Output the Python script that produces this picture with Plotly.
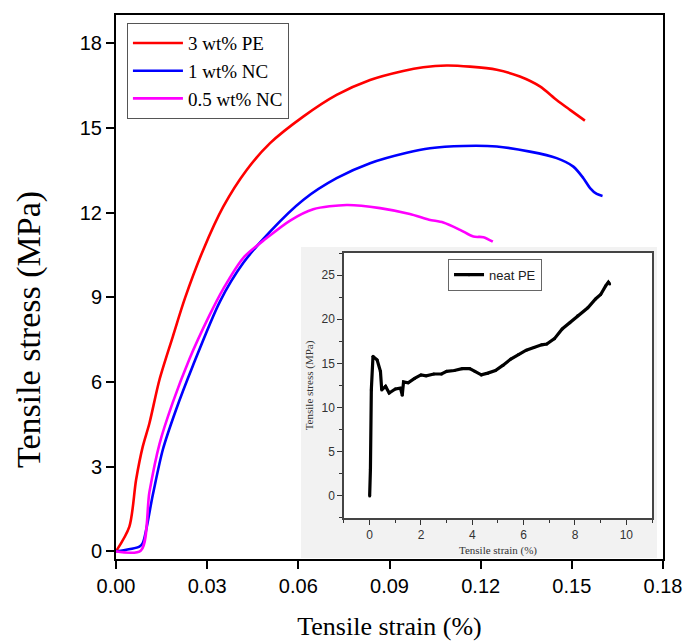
import plotly.graph_objects as go

# Main curves (strain, stress)
red_x = [0, 0.0044, 0.0066, 0.0088, 0.011, 0.0143, 0.0187, 0.0227, 0.0287, 0.0353, 0.043, 0.0507, 0.0616,
         0.0726, 0.0836, 0.0945, 0.1011, 0.1088, 0.1165, 0.1253, 0.1329, 0.1395, 0.145, 0.1494, 0.1543]
red_y = [0, 0.88, 2.53, 3.71, 4.54, 6.08, 7.61, 8.97, 10.68, 12.21, 13.51, 14.46, 15.40,
         16.17, 16.70, 17.02, 17.15, 17.21, 17.17, 17.06, 16.82, 16.47, 15.99, 15.64, 15.26]

blue_x = [0, 0.0077, 0.0088, 0.0121, 0.0154, 0.0197, 0.0252, 0.0342, 0.0419, 0.0507, 0.0616, 0.0726,
          0.0836, 0.0957, 0.1033, 0.1143, 0.1253, 0.1362, 0.145, 0.1505, 0.1538, 0.156, 0.1582, 0.1601]
blue_y = [0, 0.17, 0.29, 2.0, 3.6, 5.0, 6.55, 8.85, 10.22, 11.33, 12.45, 13.22,
          13.75, 14.12, 14.28, 14.36, 14.34, 14.16, 13.93, 13.63, 13.22, 12.87, 12.66, 12.59]

mag_x = [0, 0.0082, 0.011, 0.0143, 0.0186, 0.0241, 0.0307, 0.0353, 0.0419, 0.0496, 0.0573, 0.0649,
         0.0759, 0.0869, 0.0967, 0.103, 0.1077, 0.1132, 0.1176, 0.1209, 0.124]
mag_y = [0, 0.03, 2.1, 3.8, 5.25, 6.8, 8.35, 9.3, 10.4, 11.1, 11.72, 12.12,
         12.27, 12.16, 11.95, 11.75, 11.65, 11.39, 11.15, 11.13, 10.97]

# Inset: neat PE
pe_x = [0, 0.03, 0.065, 0.13, 0.29, 0.42, 0.47, 0.62, 0.76, 1.0, 1.2, 1.27, 1.32, 1.5, 1.75, 2.0, 2.2,
        2.5, 2.8, 3.0, 3.3, 3.6, 3.9, 4.1, 4.35, 4.6, 4.9, 5.2, 5.5, 5.8, 6.1, 6.4, 6.7, 6.9,
        7.2, 7.5, 7.8, 8.1, 8.5, 8.8, 9.0, 9.2, 9.3, 9.35]
pe_y = [0, 3.0, 12.0, 15.8, 15.4, 14.1, 12.0, 12.4, 11.65, 12.1, 12.2, 11.4, 12.9, 12.8, 13.3, 13.7, 13.6,
        13.8, 13.8, 14.1, 14.2, 14.4, 14.4, 14.1, 13.7, 13.9, 14.2, 14.8, 15.5, 16.0, 16.5, 16.8, 17.1, 17.2,
        17.8, 18.9, 19.6, 20.4, 21.3, 22.3, 22.8, 23.8, 24.2, 24.0]

main_ticks_x = [0, 0.03, 0.06, 0.09, 0.12, 0.15, 0.18]
main_ticktext_x = ["0.00", "0.03", "0.06", "0.09", "0.12", "0.15", "0.18"]
main_ticks_y = [0, 3, 6, 9, 12, 15, 18]

SERIF = "Liberation Serif, Times New Roman, serif"
SANS = "Liberation Sans, Arial, sans-serif"

fig = go.Figure()
fig.add_trace(go.Scatter(x=red_x, y=red_y, mode="lines", name="3 wt% PE",
                         line=dict(color="#ff0000", width=2.6, shape="spline", smoothing=0.8)))
fig.add_trace(go.Scatter(x=blue_x, y=blue_y, mode="lines", name="1 wt% NC",
                         line=dict(color="#0000ff", width=2.6, shape="spline", smoothing=0.8)))
fig.add_trace(go.Scatter(x=mag_x, y=mag_y, mode="lines", name="0.5 wt% NC",
                         line=dict(color="#ff00ff", width=2.6, shape="spline", smoothing=0.8)))
fig.add_trace(go.Scatter(x=pe_x, y=pe_y, mode="lines+markers", name="neat PE",
                         xaxis="x2", yaxis="y2", legend="legend2",
                         line=dict(color="black", width=3.2),
                         marker=dict(size=3, color="black")))

fig.update_layout(
    width=684, height=641,
    margin=dict(l=116, r=21, t=15, b=82, autoexpand=False),
    plot_bgcolor="white", paper_bgcolor="white",
    showlegend=True,
    xaxis=dict(range=[0, 0.18], tickvals=main_ticks_x, ticktext=main_ticktext_x,
               ticks="outside", ticklen=8, tickwidth=2, tickcolor="black",
               showline=True, linewidth=2, linecolor="black", mirror=True,
               showgrid=False, zeroline=False, automargin=False,
               tickfont=dict(family=SANS, size=20, color="black"),
               title=dict(text="Tensile strain (%)", font=dict(family=SERIF, size=26, color="black"),
                          standoff=24)),
    yaxis=dict(range=[-0.27, 19.0], tickvals=main_ticks_y,
               ticks="outside", ticklen=8, tickwidth=2, tickcolor="black",
               showline=True, linewidth=2, linecolor="black", mirror=True,
               showgrid=False, zeroline=False, automargin=False,
               tickfont=dict(family=SANS, size=20, color="black")),
    xaxis2=dict(domain=[0.4168, 0.9799], anchor="y2", range=[-1, 11], dtick=2, tick0=0,
                ticks="outside", ticklen=5, tickwidth=1, tickcolor="#333",
                minor=dict(ticks="outside", ticklen=3, dtick=1, tick0=1, tickcolor="#333"),
                showline=True, linewidth=1.5, linecolor="#444", mirror=True,
                showgrid=False, zeroline=False, automargin=False,
                tickfont=dict(family=SANS, size=12, color="#333"),
                title=dict(text="Tensile strain (%)", font=dict(family=SERIF, size=11, color="#333"),
                           standoff=5)),
    yaxis2=dict(domain=[0.0754, 0.5625], anchor="x2", range=[-2.5, 27.5], dtick=5, tick0=0,
                ticks="outside", ticklen=5, tickwidth=1, tickcolor="#333",
                minor=dict(ticks="outside", ticklen=3, dtick=2.5, tick0=2.5, tickcolor="#333"),
                showline=True, linewidth=1.5, linecolor="#444", mirror=True,
                showgrid=False, zeroline=False, automargin=False,
                tickfont=dict(family=SANS, size=12, color="#333"),
                title=dict(text="Tensile stress (MPa)", font=dict(family=SERIF, size=11, color="#333"),
                           standoff=6)),
    legend=dict(x=0.02, y=0.985, xanchor="left", yanchor="top",
                bgcolor="white", bordercolor="#555", borderwidth=1,
                font=dict(family=SERIF, size=19, color="black"),
                tracegroupgap=0, itemwidth=50),
    legend2=dict(x=0.607, y=0.552, xanchor="left", yanchor="top",
                 bgcolor="rgba(0,0,0,0)", bordercolor="#666", borderwidth=1,
                 font=dict(family=SANS, size=13, color="#222"), itemwidth=30),
    annotations=[dict(text="Tensile stress (MPa)", textangle=-90, xref="paper", yref="paper",
                      x=-0.159, y=0.421, xanchor="center", yanchor="middle", showarrow=False,
                      font=dict(family=SERIF, size=34, color="black"))],
    shapes=[dict(type="rect", xref="paper", yref="paper", x0=0.3382, x1=0.989, y0=0.002, y1=0.5735,
                 fillcolor="#f2f2f2", line=dict(width=0), layer="below")],
)

fig.write_html("out.html")
